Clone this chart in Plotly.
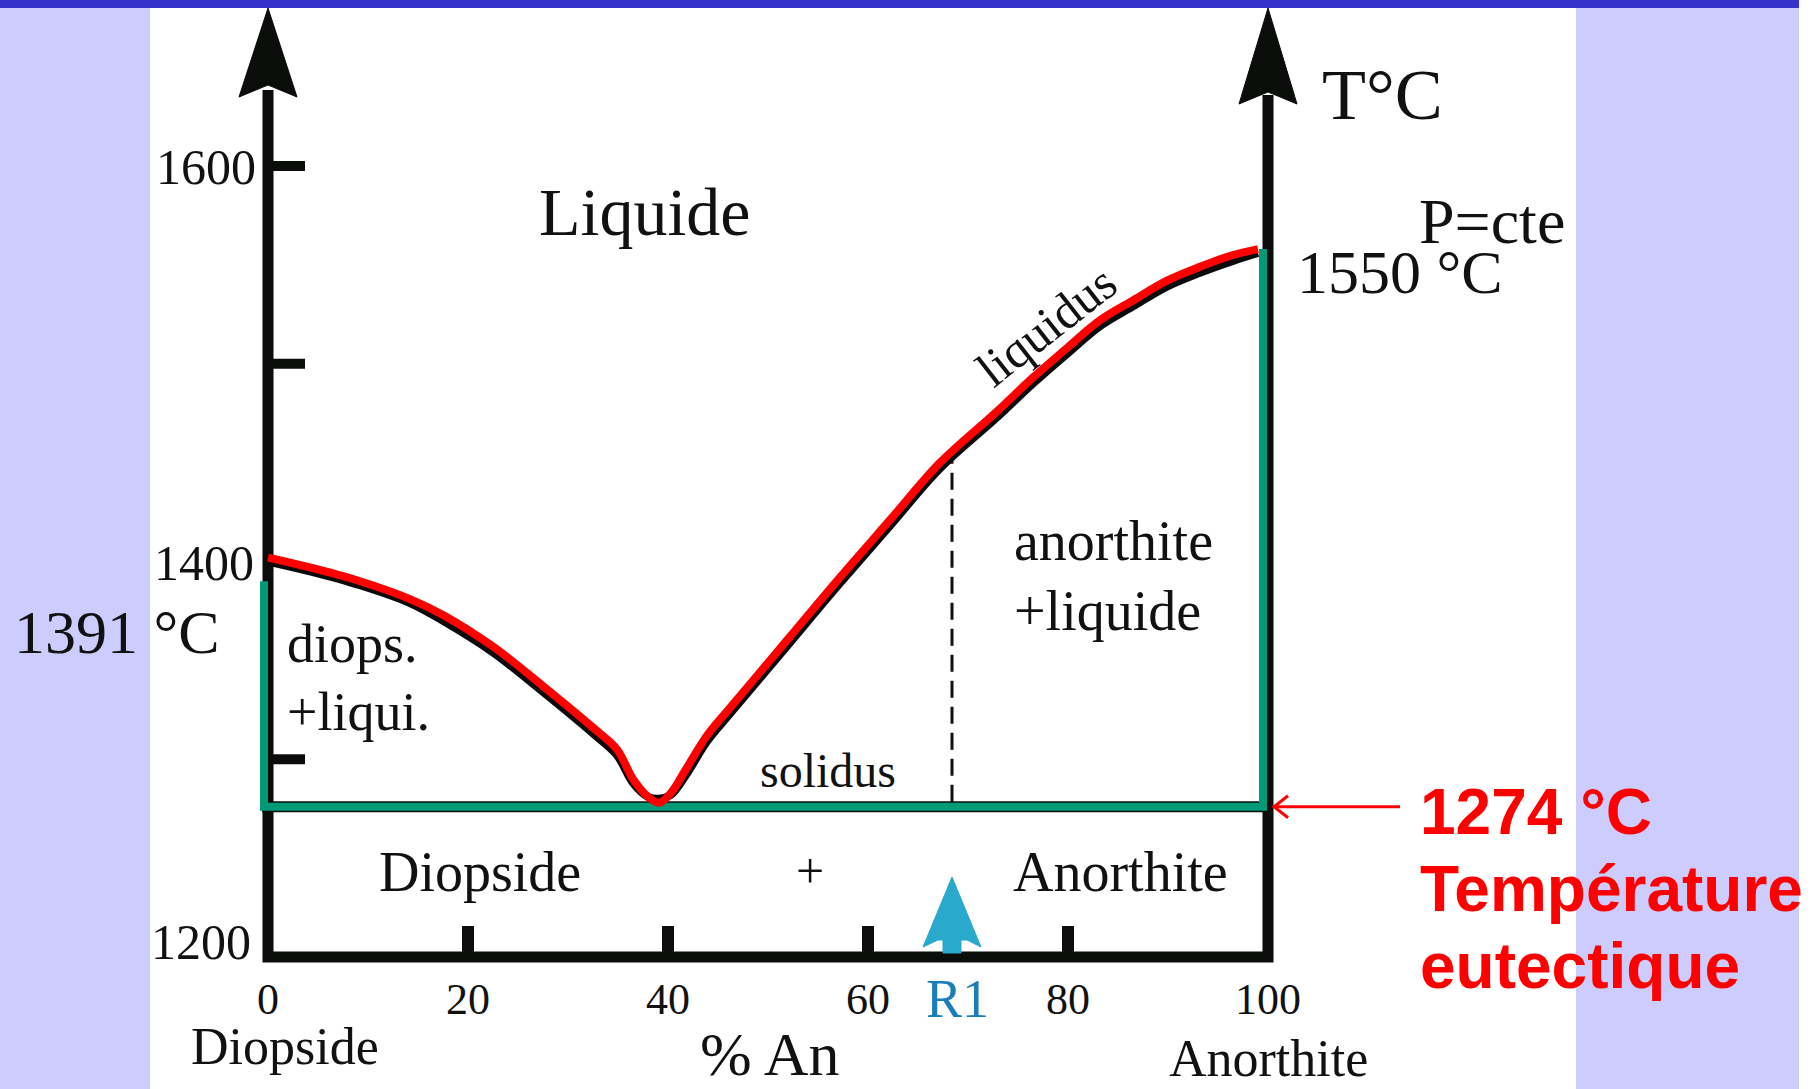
import numpy as np
import plotly.graph_objects as go

# ---------------- data ----------------
# liquidus (red curve): composition in % anorthite, temperature in °C
liq_comp = [0, 4.2, 9.2, 14.2, 17.5, 22.5, 27.5, 32.5, 34.9, 36.5, 38.0, 39.1, 40.3,
            41.8, 43.9, 46.2, 49.2, 52.2, 57.2, 62.2, 67.2, 72.7, 76.5, 79.9,
            83.2, 86.5, 89.9, 93.2, 96.5, 99.0]
liq_T = [1402, 1397, 1390, 1381, 1373, 1357, 1337, 1316, 1305, 1290, 1281, 1278, 1283,
         1295, 1312, 1326, 1344, 1362, 1392, 1421, 1450, 1475, 1493, 1508,
         1522, 1532, 1542, 1549, 1555, 1558]
# black original curve visible just under the red one
shadow_T = [1400, 1395, 1388, 1379, 1370, 1354, 1334, 1313, 1302, 1288, 1281, 1280, 1282,
            1292, 1309, 1323, 1341, 1359, 1389, 1418, 1447, 1472, 1490, 1505,
            1519, 1529, 1539, 1546, 1552, 1556]

T_diopside = 1390      # green left segment top (labelled 1391 °C)
T_eutectic = 1276      # green horizontal (labelled 1274 °C)
T_anorthite = 1558     # green right segment top (labelled 1550 °C)
R1_comp = 68.4

x_tick_labels = [0, 20, 40, 60, 80, 100]
x_tick_marks = [20, 40, 60, 80]
y_tick_labels = [1200, 1400, 1600]
y_tick_marks = [1300, 1500, 1600]

# ---------------- pixel <-> data helpers (layout only) ----------------
W, H = 1820, 1089
X0PX, SX = 268.0, 10.0          # x=0 at pixel 268, 10 px per %
Y0PX, SY = 957.0, 1.9775        # T=1200 at pixel 957, px per °C


def xd(px):
    return (px - X0PX) / SX


def yd(py):
    return 1200 + (Y0PX - py) / SY


def xp(x):
    return X0PX + x * SX


def yp(t):
    return Y0PX - (t - 1200) * SY


def path(pts):
    return "M " + " L ".join(f"{xd(a):.3f},{yd(b):.3f}" for a, b in pts) + " Z"


fig = go.Figure()

# black shadow curve and red liquidus
fig.add_trace(go.Scatter(x=liq_comp, y=shadow_T, mode="lines",
                         line=dict(color="#0b0b0b", width=8, shape="spline", smoothing=1.0),
                         hoverinfo="skip", showlegend=False))
fig.add_trace(go.Scatter(x=liq_comp, y=liq_T, mode="lines",
                         line=dict(color="#ff0000", width=8, shape="spline", smoothing=1.0),
                         hoverinfo="skip", showlegend=False))

shapes = []
BLACK = "#0b0d0b"
GREEN = "#009a76"

# axis frame (left, bottom, right)
top_l = yd(90)
top_r = yd(95)
shapes.append(dict(type="path", layer="below",
                   path=f"M 0,{top_l} L 0,1200 L 100,1200 L 100,{top_r}",
                   line=dict(color=BLACK, width=11), fillcolor="rgba(0,0,0,0)"))
# arrowheads
for xc, base, notch in [(xp(0), 97, 85), (xp(100), 104, 92)]:
    shapes.append(dict(type="path", layer="below",
                       path=path([(xc, 8), (xc + 29, base), (xc, notch), (xc - 29, base)]),
                       line=dict(color=BLACK, width=1), fillcolor=BLACK))
# y ticks
for t in y_tick_marks:
    shapes.append(dict(type="line", layer="below", x0=0, x1=xd(305), y0=t, y1=t,
                       line=dict(color=BLACK, width=10)))
# x ticks
for c in x_tick_marks:
    shapes.append(dict(type="line", layer="below", x0=c, x1=c, y0=1200, y1=yd(926),
                       line=dict(color=BLACK, width=12)))

# eutectic line: thin black edge under green
shapes.append(dict(type="line", layer="below", x0=xd(262), x1=100, y0=T_eutectic, y1=T_eutectic,
                   line=dict(color=BLACK, width=11)))
shapes.append(dict(type="path", layer="below",
                   path=f"M {xd(264)},{T_diopside} L {xd(264)},{T_eutectic} "
                        f"L {xd(1263)},{T_eutectic} L {xd(1263)},{T_anorthite}",
                   line=dict(color=GREEN, width=8), fillcolor="rgba(0,0,0,0)"))

# dashed vertical at R1
shapes.append(dict(type="line", layer="below", x0=R1_comp, x1=R1_comp,
                   y0=T_eutectic + 2.5, y1=float(np.interp(R1_comp, liq_comp, liq_T)),
                   line=dict(color="#111", width=3, dash="17px,9px")))

# R1 cyan arrow
c = xp(R1_comp)
shapes.append(dict(type="path", layer="above",
                   path=path([(c, 877), (c + 29, 947), (c + 15, 940), (c + 9, 940), (c + 9, 953),
                              (c - 9, 953), (c - 9, 940), (c - 14, 940), (c - 29, 947)]),
                   line=dict(color="#29a9cc", width=1), fillcolor="#29a9cc"))

# red arrow pointing to eutectic line
ye = yp(T_eutectic)
shapes.append(dict(type="line", layer="above", x0=xd(1400), x1=xd(1275), y0=T_eutectic, y1=T_eutectic,
                   line=dict(color="#ff0000", width=3)))
shapes.append(dict(type="path", layer="above",
                   path=f"M {xd(1288)},{yd(ye - 11)} L {xd(1274)},{T_eutectic} L {xd(1288)},{yd(ye + 11)}",
                   line=dict(color="#ff0000", width=3), fillcolor="rgba(0,0,0,0)"))

# background panels
LAV = "#ccccff"
shapes.append(dict(type="rect", layer="above", xref="paper", yref="paper",
                   x0=0, x1=150 / W, y0=0, y1=1, fillcolor=LAV, line=dict(width=0)))
shapes.append(dict(type="rect", layer="above", xref="paper", yref="paper",
                   x0=1576 / W, x1=1799 / W, y0=0, y1=1, fillcolor=LAV, line=dict(width=0)))
shapes.append(dict(type="rect", layer="above", xref="paper", yref="paper",
                   x0=0, x1=1799 / W, y0=1 - 8 / H, y1=1, fillcolor="#3333cc", line=dict(width=0)))

annotations = []
SERIF = "Liberation Serif, Times New Roman, serif"


def txt(text, px, py, size, xanchor="center", color="#111", family=SERIF, angle=0, bold=False):
    annotations.append(dict(text=f"<b>{text}</b>" if bold else text, x=xd(px), y=yd(py),
                            xref="x", yref="y", showarrow=False, xanchor=xanchor, yanchor="middle",
                            textangle=angle, font=dict(family=family, size=size, color=color)))


def base(py, size):
    # centre of text box from baseline position
    return py - 0.338 * size


# tick labels
ylab_right = {1600: 258, 1400: 256, 1200: 253}
ylab_y = {1600: 167, 1400: 563, 1200: 942}
for t in y_tick_labels:
    txt(str(t), ylab_right[t], ylab_y[t], 50, xanchor="right")
for v in x_tick_labels:
    txt(str(v), xp(v), 999, 44)

txt("Diopside", 285, 1046, 52)
txt("% An", 770, 1054, 62)
txt("Anorthite", 1268, 1058, 52)
txt("R1", xp(R1_comp) + 5, 999, 54, color="#1b7dba")

txt("Liquide", 645, 212, 68)
txt("liquidus", 1046, 326, 50, angle=-38)
txt("diops.", 285, base(662, 54), 54, xanchor="left")
txt("+liqui.", 285, base(730, 54), 54, xanchor="left")
txt("solidus", 828, base(787, 48), 48)
txt("anorthite", 1012, base(560, 56), 56, xanchor="left")
txt("+liquide", 1012, base(630, 56), 56, xanchor="left")
txt("Diopside", 480, 872, 56)
txt("+", 810, 871, 50)
txt("Anorthite", 1120, 872, 56)

txt("T°C", 1320, 95, 72, xanchor="left")
txt("P=cte", 1417, 221, 64, xanchor="left")
txt("1550 °C", 1295, 272, 62, xanchor="left")
txt("1391 °C", 12, 632, 62, xanchor="left")

SANS = "Liberation Sans, Arial, sans-serif"
txt("1274 °C", 1418, 812, 64, xanchor="left", color="#ff0000", family=SANS, bold=True)
txt("Température", 1418, 889, 64, xanchor="left", color="#ff0000", family=SANS, bold=True)
txt("eutectique", 1418, base(988, 64), 64, xanchor="left", color="#ff0000", family=SANS, bold=True)

fig.update_layout(
    width=W, height=H, margin=dict(l=0, r=0, t=0, b=0, pad=0),
    paper_bgcolor="white", plot_bgcolor="white", showlegend=False,
    xaxis=dict(range=[xd(0), xd(W)], visible=False, fixedrange=True),
    yaxis=dict(range=[yd(H), yd(0)], visible=False, fixedrange=True),
    shapes=shapes, annotations=annotations,
)

fig.write_html("out.html", config={"displayModeBar": False},
               post_script="document.body.style.margin='0';document.body.style.overflow='hidden';")
